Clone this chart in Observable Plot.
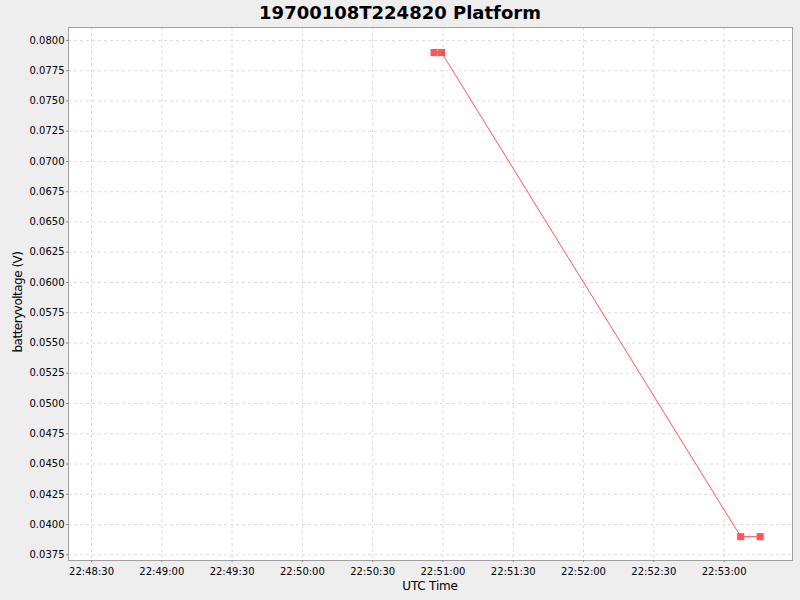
<!DOCTYPE html>
<html>
<head>
<meta charset="utf-8">
<script src="https://cdn.jsdelivr.net/npm/d3@7"></script>
<script src="https://cdn.jsdelivr.net/npm/@observablehq/plot@0.6"></script>
<style>
  html, body { margin: 0; padding: 0; background: #eeeeee; }
  #wrap { position: relative; width: 800px; height: 600px; background: #eeeeee; overflow: hidden; }
  #title { position: absolute; left: 0; top: 1px; width: 800px; text-align: center;
           font: bold 18px "DejaVu Sans", sans-serif; color: #000; line-height: 24px; }
  #xlabel { position: absolute; left: 330px; width: 200px; top: 577px; text-align: center;
            font: 12px "DejaVu Sans", sans-serif; color: #000; line-height: 18px; letter-spacing: -0.2px; }
  #ylabel { position: absolute; left: 17.5px; top: 302px; width: 200px; margin-left: -100px; margin-top: -9px;
            text-align: center; font: 12px "DejaVu Sans", sans-serif; color: #000; line-height: 18px;
            letter-spacing: -0.5px; transform: rotate(-90deg); }
  #chart { position: absolute; left: 0; top: 0; }
</style>
</head>
<body>
<div id="wrap">
  <div id="chart"></div>
  <div id="title">19700108T224820 Platform</div>
  <div id="xlabel">UTC Time</div>
  <div id="ylabel">batteryvoltage (V)</div>
</div>
<script>
const times = ["1970-01-08T22:50:56.2Z", "1970-01-08T22:50:59.4Z", "1970-01-08T22:53:07.1Z", "1970-01-08T22:53:15.4Z"];
const voltages = [0.0790, 0.0790, 0.0390, 0.0390];
const yTicks = [0.0375, 0.0400, 0.0425, 0.0450, 0.0475, 0.0500, 0.0525, 0.0550, 0.0575, 0.0600,
                0.0625, 0.0650, 0.0675, 0.0700, 0.0725, 0.0750, 0.0775, 0.0800];
const xTickLabels = ["22:48:30", "22:49:00", "22:49:30", "22:50:00", "22:50:30",
                     "22:51:00", "22:51:30", "22:52:00", "22:52:30", "22:53:00"];

const data = times.map((t, i) => ({time: new Date(t), v: voltages[i]}));
const xTicks = xTickLabels.map(s => new Date("1970-01-08T" + s + "Z"));

const fmt = d3.utcFormat("%H:%M:%S");

const chart = Plot.plot({
  width: 800,
  height: 600,
  marginLeft: 68,
  marginRight: 8,
  marginTop: 27,
  marginBottom: 40,
  style: { background: "#eeeeee", fontFamily: "DejaVu Sans, sans-serif", fontSize: "10px", color: "#000" },
  x: {
    type: "utc",
    domain: [new Date("1970-01-08T22:48:20.17Z"), new Date("1970-01-08T22:53:29.2Z")]
  },
  y: {
    domain: [0.03703, 0.08107]
  },
  marks: [
    Plot.frame({fill: "white", stroke: null}),
    Plot.gridX(xTicks, {stroke: "#dcdcdc", strokeOpacity: 1, strokeDasharray: "3,3"}),
    Plot.gridY(yTicks, {stroke: "#dcdcdc", strokeOpacity: 1, strokeDasharray: "3,3"}),
    Plot.frame({stroke: "#a0a0a0"}),
    Plot.ruleX([0], {frameAnchor: "left", stroke: "#888"}),
    Plot.axisX(xTicks, {tickFormat: fmt, tickSize: 2, tickPadding: 5, stroke: "#888", fill: "#000",
                        label: null, fontSize: 10, style: "letter-spacing:-0.35px"}),
    Plot.axisY(yTicks, {tickFormat: d3.format(".4f"), tickSize: 2, tickPadding: 2, stroke: "#888", fill: "#000",
                        label: null, fontSize: 10, style: "letter-spacing:-0.2px"}),
    Plot.line(data, {x: "time", y: "v", stroke: "#ff5555", strokeWidth: 1}),
    Plot.dot(data, {x: "time", y: "v", symbol: "square", r: 4, fill: "#ff5555", stroke: null})
  ]
});
document.getElementById("chart").appendChild(chart);
</script>
</body>
</html>
